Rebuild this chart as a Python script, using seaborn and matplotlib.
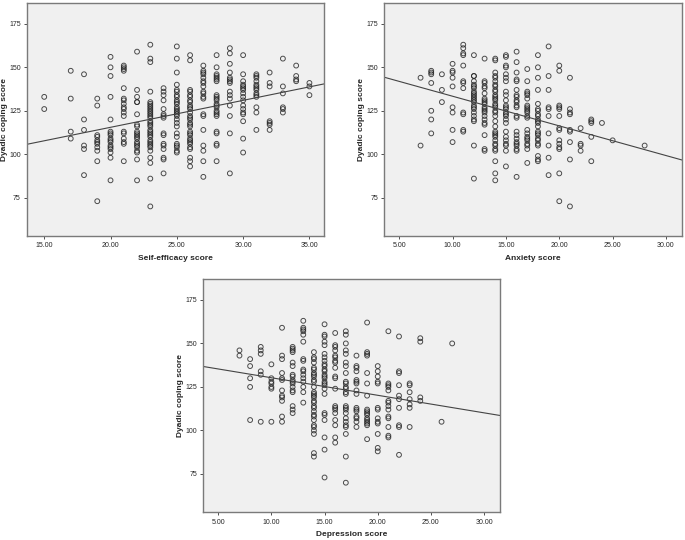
import pandas as pd
import seaborn as sns
import matplotlib.pyplot as plt

# dyadic coping scores, grouped by integer x score
self_efficacy = {
    15: [133, 126],
    17: [148, 132, 113, 109],
    18: [146, 120, 114, 105, 103, 88],
    19: [132, 128, 111, 110, 108, 107, 106, 104, 102, 96, 73],
    20: [156, 150, 145, 133, 120, 113, 112, 111, 109, 108, 107, 105, 104, 103, 101, 98, 85],
    21: [151, 150, 149, 148, 138, 132, 131, 129, 127, 126, 124, 122, 113, 112, 109, 107, 106, 96],
    22: [159, 137, 133, 130, 130, 123, 117, 116, 113, 112, 111, 110, 109, 107, 106, 105, 104, 102, 101, 97, 85],
    23: [163, 155, 153, 136, 130, 129, 128, 127, 126, 125, 124, 123, 122, 121, 119, 118, 117, 116, 114,
         113, 112, 111, 110, 108, 107, 106, 105, 104, 102, 98, 95, 86, 70],
    24: [138, 136, 134, 131, 126, 123, 122, 121, 112, 111, 106, 105, 103, 98, 97, 89],
    25: [162, 155, 147, 140, 137, 136, 134, 133, 131, 130, 129, 127, 126, 125, 124, 123, 122, 120, 118,
         116, 112, 110, 106, 105, 104, 102, 101],
    26: [157, 154, 137, 136, 134, 133, 131, 130, 128, 127, 126, 124, 122, 121, 120, 118, 117, 116, 113,
         112, 111, 109, 108, 107, 106, 104, 103, 98, 96, 93],
    27: [151, 148, 147, 146, 144, 142, 141, 139, 136, 135, 133, 132, 123, 122, 114, 105, 102, 96, 87],
    28: [157, 150, 146, 145, 144, 143, 142, 134, 133, 132, 131, 129, 128, 127, 125, 124, 123, 122,
         113, 112, 106, 105, 96],
    29: [161, 158, 152, 147, 144, 143, 142, 141, 136, 134, 132, 128, 122, 112, 89],
    30: [157, 146, 142, 140, 139, 138, 137, 135, 133, 131, 128, 126, 124, 123, 119, 109, 101],
    31: [146, 145, 144, 142, 140, 139, 138, 137, 135, 134, 133, 127, 124, 114],
    32: [147, 141, 139, 119, 118, 117, 114],
    33: [155, 139, 135, 127, 126, 124],
    34: [151, 145, 143, 142],
    35: [141, 139, 134],
}

anxiety = {
    7: [144, 105],
    8: [148, 147, 146, 141, 125, 120, 112],
    9: [146, 137, 130],
    10: [152, 148, 147, 144, 139, 127, 124, 114, 107],
    11: [163, 161, 158, 157, 151, 142, 141, 138, 124, 123, 114, 113],
    12: [157, 145, 145, 142, 140, 139, 138, 136, 135, 134, 133, 132, 131, 130, 128, 127, 126, 124,
         122, 120, 119, 105, 86],
    13: [155, 142, 141, 139, 138, 135, 132, 131, 130, 129, 127, 126, 125, 124, 122, 120, 118, 117,
         111, 103, 102],
    14: [155, 154, 147, 145, 144, 142, 140, 139, 137, 136, 134, 133, 132, 131, 129, 128, 127, 125,
         124, 122, 119, 116, 113, 112, 111, 110, 108, 106, 105, 103, 102, 96, 89, 85],
    15: [157, 156, 151, 150, 146, 144, 142, 136, 134, 131, 128, 127, 126, 124, 123, 122, 120, 118,
         113, 110, 108, 106, 105, 102, 93],
    16: [159, 153, 147, 143, 142, 137, 134, 133, 131, 130, 128, 127, 122, 121, 113, 111, 109, 107,
         106, 105, 103, 102, 87],
    17: [149, 142, 136, 135, 134, 132, 128, 127, 126, 125, 124, 122, 121, 114, 112, 110, 109, 108,
         106, 105, 103, 95],
    18: [157, 150, 144, 137, 129, 126, 125, 123, 122, 120, 119, 118, 116, 113, 112, 111, 109, 108,
         106, 105, 99, 97, 96],
    19: [162, 145, 137, 127, 126, 122, 112, 105, 98, 88],
    20: [151, 148, 128, 127, 126, 122, 115, 114, 108, 106, 104, 103, 89, 73],
    21: [144, 126, 124, 123, 114, 113, 107, 97, 70],
    22: [115, 106, 105, 102],
    23: [120, 119, 118, 110, 96],
    24: [118],
    25: [108],
    28: [105],
}

depression = {
    7: [146, 143],
    8: [141, 137, 130, 125, 106],
    9: [148, 146, 144, 134, 132, 105],
    10: [138, 130, 128, 127, 125, 124, 105],
    11: [159, 143, 141, 133, 130, 129, 123, 120, 119, 117, 108, 105],
    12: [148, 147, 146, 145, 139, 137, 132, 131, 129, 128, 127, 125, 123, 122, 114, 112, 110],
    13: [163, 159, 158, 157, 155, 151, 141, 140, 135, 134, 132, 130, 128, 125, 122, 116],
    14: [145, 142, 141, 139, 136, 135, 133, 132, 131, 129, 128, 125, 122, 121, 120, 119, 117, 116,
         114, 113, 111, 109, 108, 106, 103, 102, 100, 98, 87, 85],
    15: [161, 155, 154, 151, 149, 144, 142, 140, 138, 137, 135, 134, 132, 131, 130, 128, 127, 126,
         124, 121, 110, 109, 106, 96, 89, 73],
    16: [156, 149, 148, 146, 143, 142, 140, 139, 136, 131, 130, 124, 114, 113, 112, 110, 106, 103, 96, 93],
    17: [157, 155, 150, 146, 144, 139, 137, 133, 128, 127, 125, 124, 122, 121, 114, 113, 112, 110,
         107, 105, 103, 102, 98, 85, 70],
    18: [143, 137, 136, 134, 129, 128, 127, 123, 121, 113, 112, 111, 108, 107, 105, 102],
    19: [162, 145, 144, 143, 133, 127, 120, 112, 111, 110, 109, 107, 106, 105, 104, 103, 95],
    20: [137, 134, 131, 128, 127, 113, 112, 107, 105, 104, 98, 90, 88],
    21: [157, 127, 126, 125, 123, 117, 116, 114, 112, 108, 107, 102, 97, 96],
    22: [154, 134, 133, 126, 120, 118, 113, 103, 102, 86],
    23: [127, 126, 122, 118, 115, 113, 102],
    24: [153, 151, 119, 117],
    26: [105],
    27: [150],
}

panels = [
    ("Seif-efficacy score", self_efficacy, [0.0394, 0.563, 0.4336, 0.4315], (13.7, 36.1), [15, 20, 25, 30, 35]),
    ("Anxiety score", anxiety, [0.561, 0.563, 0.4346, 0.4315], (3.6, 31.5), [5, 10, 15, 20, 25, 30]),
    ("Depression score", depression, [0.2968, 0.0513, 0.4332, 0.432], (3.6, 31.5), [5, 10, 15, 20, 25, 30]),
]

sns.set_style("ticks", {"axes.facecolor": "#f0f0f0", "axes.edgecolor": "#7a7a7a"})
plt.rcParams['font.family'] = ['Liberation Sans', 'DejaVu Sans']

fig = plt.figure(figsize=(6.85, 5.4), dpi=100)

for xlabel, groups, rect, xlim, xticks in panels:
    df = pd.DataFrame([(x, y) for x, ys in groups.items() for y in ys], columns=["x", "y"])
    ax = fig.add_axes(rect)
    ax.set_xlim(*xlim)
    ax.set_ylim(53, 187)
    sns.regplot(data=df, x="x", y="y", ax=ax, ci=None, truncate=False,
                scatter_kws={"s": 12, "facecolors": "none", "edgecolors": "#222222", "linewidths": 0.7},
                line_kws={"color": "#444444", "lw": 0.8})
    ax.set_xlim(*xlim)
    ax.set_ylim(53, 187)
    ax.set_xticks(xticks)
    ax.set_xticklabels([f"{t:.2f}" for t in xticks])
    ax.set_yticks([75, 100, 125, 150, 175])
    ax.tick_params(labelsize=5, length=2.5, width=0.6, color="#333333", pad=2)
    for s in ax.spines.values():
        s.set_linewidth(1.0)
    ax.set_xlabel(xlabel, fontsize=6, fontweight="bold", labelpad=4)
    ax.set_ylabel("Dyadic coping score", fontsize=6, fontweight="bold", labelpad=1)

plt.savefig("out.png", dpi=100)
